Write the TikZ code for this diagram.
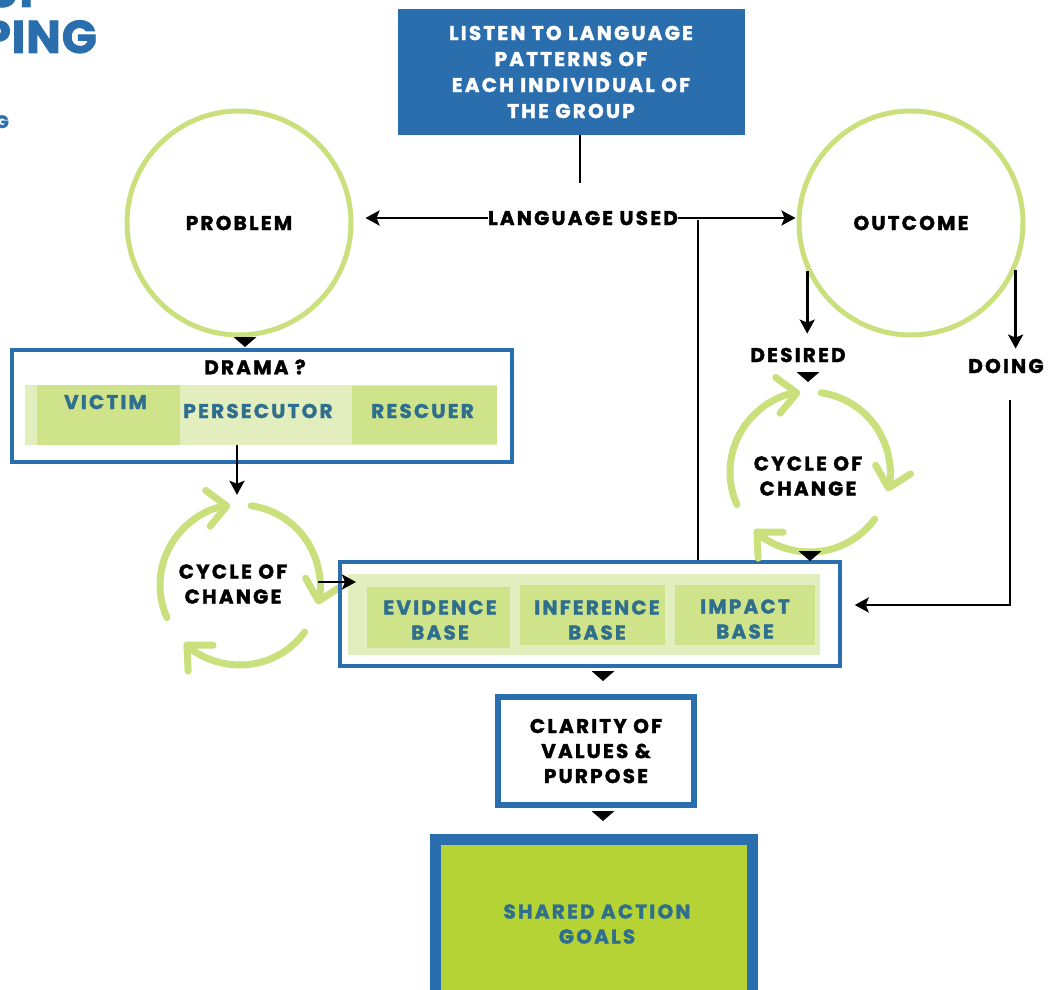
\documentclass[tikz,border=0pt]{standalone}
\usepackage{fontspec}
\setmainfont{Poppins}[LetterSpace=11, BoldFeatures={FakeBold=1.6}]
\newfontfamily\headfont{Poppins}[LetterSpace=2, BoldFeatures={FakeBold=1.8}]
\usetikzlibrary{arrows.meta,calc}

\definecolor{boxblue}{HTML}{2B6EAE}
\definecolor{ringgreen}{HTML}{C9E07C}
\definecolor{cellgreen}{HTML}{CFE38B}
\definecolor{bandgreen}{HTML}{E3EEBE}
\definecolor{goalgreen}{HTML}{B5D335}
\definecolor{celltext}{HTML}{2F6E8C}

\tikzset{
  lbl/.style={font=\fontsize{20}{25}\selectfont\bfseries, align=center, inner sep=0pt},
  celltxt/.style={lbl, text=celltext},
  ring/.style={circle, draw=ringgreen, line width=5pt, minimum size=224pt, lbl},
  cyctext/.style={circle, minimum size=160pt, lbl},
  cycarc/.style={draw=ringgreen, line width=7pt, line cap=round,
    -{Straight Barb[length=19pt, width=36pt, round]}},
  conn/.style={draw=black, line width=2.8pt},
  arr/.style={conn, -{Stealth[length=14pt, width=15pt, inset=3pt]}},
  frame/.style={draw=boxblue, line width=3.5pt, fill=white},
  band/.style={fill=bandgreen, inner sep=0pt},
  cell/.style={fill=cellgreen, inner sep=0pt},
  heading/.style={inner sep=0pt, text=boxblue},
  notch/.pic={\fill[black] (-11.5,-5) -- (11.5,-5) -- (0,5) -- cycle;},
}

\begin{document}
\begin{tikzpicture}[x=1pt, y=-1pt]
\useasboundingbox (0,0) rectangle (1050,990);
\clip (0,0) rectangle (1050,990);

% heading fragments at the left edge
\node[heading, anchor=base west, font=\headfont\fontsize{46}{46}\selectfont\bfseries]
  (headA) at (-14,7) {UP};
\node[heading, anchor=base east, font=\headfont\fontsize{46}{46}\selectfont\bfseries]
  (headB) at (97,53) {PING};
\node[heading, anchor=base east, font=\headfont\fontsize{18}{18}\selectfont\bfseries]
  (headC) at (9,128) {G};

% top instruction box
\node[fill=boxblue, minimum width=347pt, minimum height=125pt, lbl, text=white,
  font=\fontsize{20}{26}\selectfont\bfseries] (listen) at (571,72)
  {LISTEN TO LANGUAGE\\PATTERNS OF\\EACH INDIVIDUAL OF\\THE GROUP};
\coordinate (stem) at (580,183);
\draw[conn] (listen.south -| stem) -- (stem);

% problem / outcome circles
\node[ring] (problem) at (239,223) {PROBLEM};
\node[ring] (outcome) at (911,223) {OUTCOME};

\node[lbl] (lang) at (583,218) {LANGUAGE USED};
\draw[arr, shorten >=12pt] (lang.west) -- (lang.west -| problem.east);
\draw[arr, shorten >=1pt] (lang.east) -- (lang.east -| outcome.west);
\coordinate (tap) at (698,220);

% drama triangle
\node[frame, minimum width=500pt, minimum height=112pt] (drama) at (262,406) {};
\node[band, minimum width=472pt, minimum height=60pt] (dband) at (261,415) {};
\node[cell, minimum width=143pt, minimum height=60pt] (victim) at (108.5,415) {};
\node[cell, minimum width=145pt, minimum height=58pt] (rescuer) at (424.5,415) {};
\node[band, minimum width=172pt, minimum height=60pt] (persec) at (266,415) {};
\node[lbl] (dramalbl) at (255,367) {DRAMA ?};
\node[celltxt] at ($(victim.center)+(-3,-13)$) {VICTIM};
\node[celltxt] at (258,411) {PERSECUTOR};
\node[celltxt] at ($(rescuer.center)+(-2,-4)$) {RESCUER};
\pic at (245,342) {notch};

% left cycle of change
\node[cyctext] (cycL) at (240,585) {};
\node[lbl] at (233,584) {CYCLE OF\\CHANGE};
\begin{scope}[shift={(cycL.center)}, x=1pt, y=1pt]
  \draw[cycarc] (82:80) arc[start angle=82, end angle=-14, radius=80];
  \draw[cycarc] (-36:80) arc[start angle=-36, end angle=-134, radius=80];
  \draw[cycarc] (-156:80) arc[start angle=-156, end angle=-263, radius=80];
\end{scope}
\draw[arr, shorten >=10pt] (persec.south -| 237,0) -- (cycL.north -| 237,0);

% the three bases
\node[frame, minimum width=500pt, minimum height=104pt] (bases) at (590,614) {};
\node[band, minimum width=472pt, minimum height=81pt] (bband) at (584,614.5) {};
\node[cell, minimum width=143pt, minimum height=61pt] (evid) at (438.5,617.5) {};
\node[cell, minimum width=145pt, minimum height=60pt] (infer) at (592.5,615) {};
\node[cell, minimum width=140pt, minimum height=60pt] (impact) at (745,615) {};
\node[celltxt] at (440,620) {EVIDENCE\\BASE};
\node[celltxt] at (597,620) {INFERENCE\\BASE};
\node[celltxt] at (745,619) {IMPACT\\BASE};
\coordinate (inL) at (356,582);
\draw[arr] (cycL.east |- inL) ++(-2,0) -- (inL);
\draw[conn] (tap) -- (tap |- bases.north);

% outcome branches
\node[lbl] (desired) at (798,355) {DESIRED};
\node[lbl] (doing) at (1006,366) {DOING};
\draw[arr, shorten >=14pt] (outcome.205) -- (outcome.205 |- desired.north);
\draw[arr, shorten >=2pt] (outcome.-24) -- ($(outcome.-24 |- doing.north)+(0,-8)$);
\pic at (808,377) {notch};

% right cycle of change
\node[cyctext] (cycR) at (810,472) {};
\node[lbl] at (808,476) {CYCLE OF\\CHANGE};
\begin{scope}[shift={(cycR.center)}, x=1pt, y=1pt]
  \draw[cycarc] (82:80) arc[start angle=82, end angle=-14, radius=80];
  \draw[cycarc] (-36:80) arc[start angle=-36, end angle=-134, radius=80];
  \draw[cycarc] (-156:80) arc[start angle=-156, end angle=-263, radius=80];
\end{scope}
\pic at (810,556) {notch};

\coordinate (dtop) at (1010,400);
\coordinate (dturn) at (1010,605);
\draw[arr, shorten >=13pt] (dtop) -- (dturn) -- (dturn -| bases.east);

% clarity and goals
\pic at (603,676) {notch};
\node[draw=boxblue, line width=5.5pt, minimum width=196pt, minimum height=108pt, lbl]
  (clarity) at (596,751) {CLARITY OF\\VALUES \&\\PURPOSE};
\pic at (603,816) {notch};
\node[draw=boxblue, fill=goalgreen, line width=11pt, minimum width=317pt,
  minimum height=180pt] (goals) at (594,929) {};
\node[celltxt] at (597,924) {SHARED ACTION\\GOALS};
\end{tikzpicture}
\end{document}
